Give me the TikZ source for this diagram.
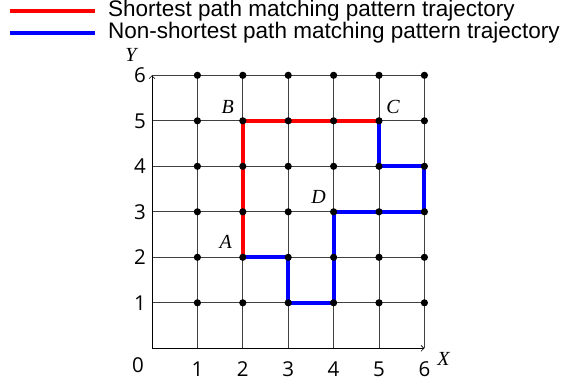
\documentclass[tikz,border=0pt]{standalone}
\usepackage{fontspec}
\setmainfont{Liberation Serif}
\newfontfamily\legfont{Liberation Sans}
\newfontfamily\numfont{Open Sans}
\usetikzlibrary{arrows.meta}
\tikzset{
  gridline/.style={draw=black!75, line width=0.7pt},
  axisline/.style={draw=black, line width=0.8pt, -{Straight Barb[length=3pt,width=6pt,line width=0.6pt]}},
  redpath/.style={draw=red, line width=4pt, line join=miter},
  bluepath/.style={draw=blue, line width=4pt, line join=miter},
  gdot/.style={fill=black},
  numlab/.style={font=\numfont\fontsize{20.5}{22}\selectfont, inner sep=0pt},
  ptlab/.style={font=\itshape\fontsize{20}{22}\selectfont, inner sep=0pt},
  legtext/.style={font=\legfont\fontsize{22.5}{24}\selectfont, inner sep=0pt, anchor=west},
}
\begin{document}
\begin{tikzpicture}[x=1pt,y=-1pt]
\useasboundingbox (0,0) rectangle (561,384);
% legend
\coordinate (lr1) at (10,11);
\coordinate (lr2) at (95,11);
\coordinate (lb1) at (10,33);
\coordinate (lb2) at (95,33);
\draw[redpath] (lr1) -- (lr2);
\draw[bluepath] (lb1) -- (lb2);
\node[legtext] (leg1) at (108,11) {Shortest path matching pattern trajectory};
\node[legtext] (leg2) at (108,33) {Non-shortest path matching pattern trajectory};
\begin{scope}[shift={(152,348.3)}, x=45.4pt, y=45.5pt]
  \coordinate (o) at (0,0);
  \coordinate (xend) at (6,0);
  \coordinate (yend) at (0,6);
  \foreach \i in {0,...,6}{
    \foreach \j in {0,...,6}{
      \coordinate (p-\i-\j) at (\i,\j);
    }
  }
  \foreach \i in {1,...,6}{
    \draw[gridline] (p-\i-0) -- (p-\i-6);
    \draw[gridline] (p-0-\i) -- (p-6-\i);
  }
  \draw[axisline] (o) -- (xend);
  \draw[axisline] (o) -- (yend);
  % paths
  \draw[redpath] (p-2-2) -- (p-2-5) -- (p-5-5);
  \draw[bluepath] (p-2-2) -- (p-3-2) -- (p-3-1) -- (p-4-1) -- (p-4-3) -- (p-6-3) -- (p-6-4) -- (p-5-4) -- (p-5-5);
  % dots
  \foreach \i in {1,...,6}{
    \foreach \j in {1,...,6}{
      \fill[gdot] (p-\i-\j) circle (3.6pt);
    }
  }
  % axis numbers
  \foreach \i in {1,...,6}{
    \node[numlab] (xl-\i) at ([yshift=-20.5pt]p-\i-0) {\i};
    \node[numlab] (yl-\i) at ([xshift=-12pt]p-0-\i) {\i};
  }
  \node[numlab] (zl) at ([xshift=-14pt,yshift=-17pt]o) {0};
  \node[ptlab] (xlab) at ([xshift=19pt,yshift=-11pt]xend) {X};
  \node[ptlab] (ylab) at ([xshift=-21pt,yshift=20pt]yend) {Y};
  % point labels
  \node[ptlab] (lA) at ([xshift=-17pt,yshift=15pt]p-2-2) {A};
  \node[ptlab] (lB) at ([xshift=-15pt,yshift=14pt]p-2-5) {B};
  \node[ptlab] (lC) at ([xshift=14pt,yshift=14pt]p-5-5) {C};
  \node[ptlab] (lD) at ([xshift=-15pt,yshift=15pt]p-4-3) {D};
\end{scope}
\end{tikzpicture}
\end{document}
